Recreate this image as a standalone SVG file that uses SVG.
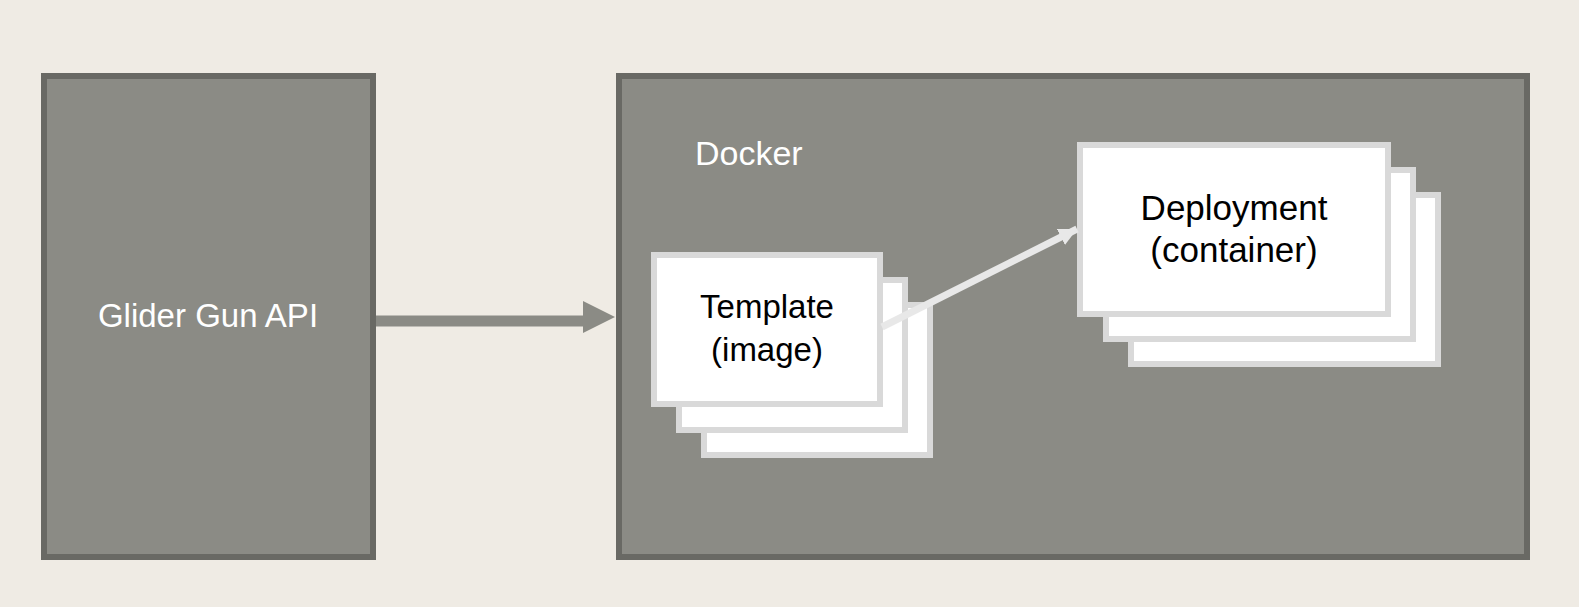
<svg xmlns="http://www.w3.org/2000/svg" width="1579" height="607" viewBox="0 0 1579 607">
<defs>
<style>
.panel{fill:#8b8b85;stroke:#696964;stroke-width:6}
.card{fill:#ffffff;stroke:#d9d9d9;stroke-width:6}
.wt{font-family:"Liberation Sans",Arial,sans-serif;fill:#ffffff}
.bt{font-family:"Liberation Sans",Arial,sans-serif;fill:#000000;text-anchor:middle}
</style>
<marker id="ah2" markerUnits="userSpaceOnUse" markerWidth="20" markerHeight="20" refX="18" refY="9" orient="auto"><path d="M0,0 L18,9 L0,18 Z" fill="#e8e8e8"/></marker>
</defs>
<rect width="1579" height="607" fill="#efebe4"/>
<g id="glider">
<rect class="panel" x="44" y="76" width="329" height="481"/>
<text class="wt" x="208" y="327" font-size="33" text-anchor="middle">Glider Gun API</text>
</g>
<g id="docker">
<rect class="panel" x="619" y="76" width="908" height="481"/>
<text class="wt" x="695" y="165" font-size="34">Docker</text>
</g>
<g id="template">
<rect class="card" x="704" y="305" width="226" height="150"/>
<rect class="card" x="679" y="280" width="226" height="150"/>
<rect class="card" x="654" y="255" width="226" height="149"/>
<text class="bt" x="767" y="318" font-size="33">Template</text>
<text class="bt" x="767" y="361" font-size="33">(image)</text>
</g>
<g id="deployment">
<rect class="card" x="1131" y="195" width="307" height="169"/>
<rect class="card" x="1106" y="170" width="307" height="169"/>
<rect class="card" x="1080" y="145" width="308" height="169"/>
<text class="bt" x="1234" y="220" font-size="35">Deployment</text>
<text class="bt" x="1234" y="262" font-size="35">(container)</text>
</g>
<g id="connectors">
<line x1="376" y1="321" x2="585" y2="321" stroke="#8b8b85" stroke-width="11"/>
<path d="M583,301 L615,317 L583,333 Z" fill="#8b8b85"/>
<line x1="882" y1="327" x2="1077" y2="229" stroke="#e8e8e8" stroke-width="7" marker-end="url(#ah2)"/>
</g>
</svg>
